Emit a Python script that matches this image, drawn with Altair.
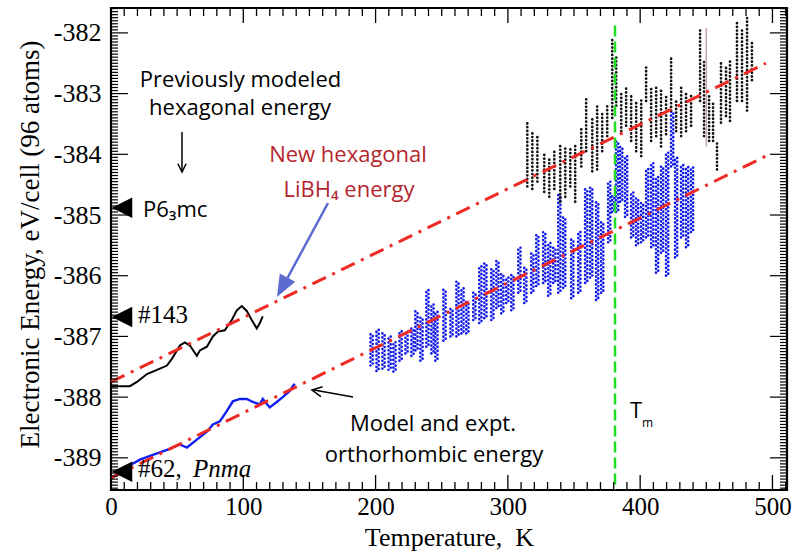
import altair as alt
import pandas as pd

# ---------------- data ----------------
# previously modeled hexagonal energy (black curve)
hex_prev_T = [0.0, 1.5, 14.3, 19.6, 27.2, 37.0, 42.3, 46.0, 52.1, 55.8, 59.6, 64.9, 67.2, 72.5,
              77.0, 80.8, 86.0, 91.3, 95.1, 98.9, 102.6, 106.4, 110.2, 112.5, 114.7]
hex_prev_E = [-387.82, -387.82, -387.82, -387.75, -387.62, -387.53, -387.48, -387.37, -387.15,
              -387.10, -387.15, -387.32, -387.23, -387.17, -387.00, -386.92, -386.90, -386.73,
              -386.57, -386.50, -386.58, -386.73, -386.87, -386.78, -386.67]

# model orthorhombic energy, low temperature (blue curve)
ortho_T = [0.0, 1.5, 12.1, 21.9, 31.7, 42.3, 52.1, 57.4, 64.9, 72.5, 77.0, 82.3, 87.5, 92.1, 97.4,
           102.6, 107.2, 112.5, 114.7, 120.0, 125.3, 129.8, 135.1, 137.4, 138.9]
ortho_E = [-389.33, -389.32, -389.15, -389.03, -388.95, -388.87, -388.78, -388.83, -388.70,
           -388.57, -388.45, -388.40, -388.23, -388.07, -388.03, -388.03, -388.08, -388.12,
           -388.03, -388.17, -388.08, -388.00, -387.90, -387.82, -387.78]

# linear fits (red dash-dot lines)
fit_names = ["hexagonal", "hexagonal", "orthorhombic", "orthorhombic"]
fit_T = [0, 495, 0, 495]
fit_E = [-387.75, -382.50, -389.33, -384.03]

# orthorhombic MD samples (blue dots), one vertical streak per column
blue_T = [197.0, 201.5, 206.0, 210.6, 214.3, 218.9, 223.4, 227.9, 230.9, 234.7, 239.2, 243.0,
          246.0, 252.1, 257.4, 261.9, 265.7, 269.4, 274.7, 279.2, 283.0, 288.3, 292.1, 295.8,
          299.6, 303.4, 308.7, 313.2, 318.5, 322.3, 327.5, 331.3, 335.1, 338.9, 342.6, 348.7,
          354.0, 359.2, 363.0, 367.5, 371.3, 376.6, 379.6, 382.6, 385.7, 389.4, 394.0, 397.7,
          401.5, 405.3, 409.1, 412.8, 416.6, 420.4, 424.2, 427.2, 431.7, 435.5, 439.2]
blue_lo = [-387.48, -387.57, -387.53, -387.55, -387.58, -387.40, -387.28, -387.32, -387.23,
           -387.40, -387.17, -387.28, -387.40, -387.07, -387.00, -387.00, -386.95, -386.95,
           -386.73, -386.78, -386.70, -386.73, -386.53, -386.62, -386.45, -386.57, -386.28,
           -386.45, -386.28, -386.17, -386.12, -386.33, -386.12, -386.28, -386.20, -386.37,
           -386.28, -386.12, -386.03, -386.40, -386.28, -385.45, -384.95, -384.95, -384.78,
           -385.03, -385.37, -385.50, -385.45, -385.37, -385.53, -385.95, -385.62, -386.00,
           -384.20, -385.70, -385.37, -385.53, -385.28]
blue_hi = [-386.95, -386.87, -386.92, -386.98, -387.08, -386.90, -386.90, -386.87, -386.57,
           -386.67, -386.23, -386.45, -386.57, -386.23, -386.53, -386.07, -386.20, -386.42,
           -386.28, -385.82, -385.78, -385.87, -385.73, -385.95, -386.03, -385.98, -385.53,
           -385.87, -385.62, -385.33, -385.28, -385.45, -385.53, -384.67, -385.03, -385.40,
           -385.28, -384.57, -384.53, -384.78, -385.12, -384.45, -384.67, -383.78, -383.87,
           -384.03, -384.62, -384.70, -384.78, -384.23, -384.12, -384.37, -384.20, -383.95,
           -383.28, -384.03, -384.17, -384.20, -384.20]

# hexagonal MD samples (black dots)
black_T = [314.7, 318.5, 322.3, 327.5, 331.3, 335.1, 339.6, 343.4, 347.2, 350.9, 355.5, 359.2,
           363.8, 367.5, 371.3, 375.1, 378.9, 381.9, 385.7, 389.4, 393.2, 397.0, 400.8, 404.5,
           408.3, 412.1, 415.8, 419.6, 423.4, 427.2, 431.0, 434.7, 438.5, 445.3, 448.3, 452.1,
           455.1, 458.1, 461.1, 464.9, 467.9, 473.2, 477.0, 480.8, 484.5]
black_lo = [-384.53, -384.57, -384.45, -384.62, -384.70, -384.57, -384.78, -384.70, -384.53,
            -384.78, -384.20, -383.95, -384.28, -384.25, -383.95, -383.70, -383.40, -383.20,
            -383.62, -383.53, -383.78, -383.95, -384.03, -383.12, -383.78, -383.70, -383.87,
            -383.67, -383.28, -383.62, -383.70, -383.62, -383.53, -383.12, -383.70, -383.78,
            -383.78, -384.25, -383.48, -383.37, -383.45, -383.12, -383.12, -383.28, -382.78]
black_hi = [-383.48, -383.62, -383.70, -383.95, -384.07, -383.95, -383.83, -383.87, -383.87,
            -383.83, -383.57, -383.07, -383.37, -383.17, -383.28, -383.20, -382.12, -382.37,
            -382.95, -382.90, -383.03, -383.12, -383.07, -382.57, -382.92, -382.87, -382.95,
            -383.03, -382.42, -383.08, -382.90, -382.95, -383.03, -381.95, -382.45, -383.03,
            -383.15, -383.78, -382.45, -382.53, -382.42, -381.83, -381.95, -381.70, -382.12]

# melting temperature (green) and the thin marker line near 450 K
tm_T = [381]
tm_top = [-381.88]
mark450_T = [450]
mark450_lo = [-383.87]
mark450_hi = [-381.92]

# reference structure energies (black triangles on the axis)
struct_names = ["P6_3mc", "#143", "#62"]
struct_E = [-384.88, -386.68, -389.23]

# axis ticks
x_major = [0, 100, 200, 300, 400, 500]
x_minor = [v for v in range(10, 511, 10) if v % 100 != 0]
y_major = [-389, -388, -387, -386, -385, -384, -383, -382]
y_minor = [round(-389.50 + 0.05 * i, 2) for i in range(0, 159)
           if abs(round(-389.50 + 0.05 * i, 2) - round(-389.50 + 0.05 * i)) > 1e-6]

# ---------------- chart ----------------
W, H = 676, 482
xs = alt.Scale(domain=[0, 511], nice=False, zero=False)
ys = alt.Scale(domain=[-389.53, -381.59], nice=False, zero=False)
SERIF = "Liberation Serif"
SANS = "Open Sans"
XTITLE = "Temperature,\u2002K"
YTITLE = "Electronic Energy,  eV/cell (96 atoms)"

XA = alt.Axis(
    values=x_major, format="d", title=XTITLE,
    labelFont=SERIF, labelFontSize=25, labelColor="black", labelPadding=4,
    titleFont=SERIF, titleFontSize=26, titleFontWeight="normal", titleColor="black",
    titlePadding=5, ticks=False, domain=False, grid=False, labelFlush=False)
YA = alt.Axis(
    values=y_major, labelExpr="'-' + format(abs(datum.value), 'd')", title=YTITLE,
    labelFont=SERIF, labelFontSize=26, labelColor="black", labelPadding=10,
    titleFont=SERIF, titleFontSize=27, titleFontWeight="normal", titleColor="black",
    titlePadding=9, titleY=236, ticks=False, domain=False, grid=False, labelFlush=False)

blue_df = pd.DataFrame({"T": blue_T, "lo": blue_lo, "hi": blue_hi})
black_df = pd.DataFrame({"T": black_T, "lo": black_lo, "hi": black_hi})
fit_df = pd.DataFrame({"fit": fit_names, "T": fit_T, "E": fit_E})
hexp_df = pd.DataFrame({"T": hex_prev_T, "E": hex_prev_E})
orth_df = pd.DataFrame({"T": ortho_T, "E": ortho_E})
tm_df = pd.DataFrame({"T": tm_T, "top": tm_top})
m450_df = pd.DataFrame({"T": mark450_T, "lo": mark450_lo, "hi": mark450_hi})
struct_df = pd.DataFrame({"name": struct_names, "E": struct_E})
xmaj_df = pd.DataFrame({"T": x_major})
xmin_df = pd.DataFrame({"T": x_minor})
ymaj_df = pd.DataFrame({"E": y_major})
ymin_df = pd.DataFrame({"E": y_minor})
one = pd.DataFrame({"k": [0]})

def X(f="T"):
    return alt.X(f"{f}:Q", scale=xs, axis=XA, title=XTITLE)

def Y(f="E"):
    return alt.Y(f"{f}:Q", scale=ys, axis=YA, title=YTITLE)

BLUE = "#1018e8"
blue_pts_a = alt.Chart(blue_df).mark_rule(
    color=BLUE, strokeWidth=2.6, strokeDash=[0.1, 3.8], strokeCap="round", xOffset=-1.1
).encode(x=X(), y=Y("lo"), y2="hi:Q")
blue_pts_b = alt.Chart(blue_df).mark_rule(
    color=BLUE, strokeWidth=2.6, strokeDash=[0.1, 3.8], strokeCap="round",
    strokeDashOffset=1.9, xOffset=1.1
).encode(x=X(), y=Y("lo"), y2="hi:Q")

black_pts = alt.Chart(black_df).mark_rule(
    color="#111111", strokeWidth=2.7, strokeDash=[0.1, 3.6], strokeCap="round"
).encode(x=X(), y=Y("lo"), y2="hi:Q")

m450 = alt.Chart(m450_df).mark_rule(color="#c8a2a4", strokeWidth=1.5).encode(
    x=X(), y=Y("lo"), y2="hi:Q")

hexp = alt.Chart(hexp_df).mark_line(color="black", strokeWidth=2).encode(x=X(), y=Y())
orth = alt.Chart(orth_df).mark_line(color="#1020f0", strokeWidth=2.4).encode(x=X(), y=Y())

fits = alt.Chart(fit_df).mark_line(
    color="#ee2a24", strokeWidth=3, strokeDash=[15, 7, 3, 7]
).encode(x=X(), y=Y(), detail="fit:N")

tm = alt.Chart(tm_df).mark_rule(color="#22dd22", strokeWidth=2.5, strokeDash=[11, 5]).encode(
    x=X(), y=Y("top"), y2=alt.value(H))

def xticks(df, length):
    b = alt.Chart(df).mark_rule(color="black", strokeWidth=1.3).encode(
        x=X(), y=alt.value(H), y2=alt.value(H - length))
    t = alt.Chart(df).mark_rule(color="black", strokeWidth=1.3).encode(
        x=X(), y=alt.value(0), y2=alt.value(length))
    return [b, t]

def yticks(df, length):
    l = alt.Chart(df).mark_rule(color="black", strokeWidth=1.2).encode(
        y=Y(), x=alt.value(0), x2=alt.value(length))
    r = alt.Chart(df).mark_rule(color="black", strokeWidth=1.2).encode(
        y=Y(), x=alt.value(W), x2=alt.value(W - length))
    return [l, r]

ticks = xticks(xmaj_df, 15) + xticks(xmin_df, 8) + yticks(ymaj_df, 17) + yticks(ymin_df, 7)

tri = alt.Chart(struct_df).mark_point(
    shape="M-1,0L1,-1L1,1Z", filled=True, color="black", opacity=1, size=420
).encode(x=alt.value(11), y=Y())

def seg(x1, y1, x2, y2, color, width):
    return alt.Chart(one).mark_rule(color=color, strokeWidth=width).encode(
        x=alt.value(x1), y=alt.value(y1), x2=alt.value(x2), y2=alt.value(y2))

def head(x, y, shape, angle, size, color, filled):
    return alt.Chart(one).mark_point(
        shape=shape, angle=angle, size=size, color=color, filled=filled,
        opacity=1, strokeWidth=1.5
    ).encode(x=alt.value(x), y=alt.value(y))

arrows = [
    seg(71, 124, 71, 163, "black", 1.5),
    head(71, 164, "M-0.7,-1.4L0,0L0.7,-1.4", 0, 140, "black", False),
    seg(217, 195, 170, 282, "#5b6bd0", 2.5),
    head(166, 289, "M0,0L-0.8,2L0.8,2Z", 208.5, 484, "#5b6bd0", True),
    seg(242, 389, 203, 382, "black", 1.5),
    head(201, 382, "M-0.7,1.4L0,0L0.7,1.4", 279.7, 200, "black", False),
]

def txt(s, x, y, font, size, color="black", align="left", style="normal"):
    return alt.Chart(one).mark_text(
        text=s, font=font, fontSize=size, color=color, align=align,
        baseline="alphabetic", fontStyle=style
    ).encode(x=alt.value(x), y=alt.value(y))

DARKRED = "#b3262e"
texts = [
    txt("Previously modeled", 129.5, 79, SANS, 22, align="center"),
    txt("hexagonal energy", 129, 107, SANS, 22, align="center"),
    txt("P6\u2083mc", 32, 209, SANS, 22),
    txt("#143", 27, 315, SERIF, 25),
    txt("#62,", 27, 469, SERIF, 25),
    txt("Pnma", 82, 469, SERIF, 25, style="italic"),
    txt("New hexagonal", 237, 154, SANS, 22, color=DARKRED, align="center"),
    txt("LiBH\u2084 energy", 238, 189, SANS, 22, color=DARKRED, align="center"),
    txt("Model and expt.", 322, 423, SANS, 22, align="center"),
    txt("orthorhombic energy", 323, 454, SANS, 22, align="center"),
    txt("T", 519, 410, SANS, 22),
    txt("m", 531, 419, SANS, 12),
]

chart = alt.layer(
    blue_pts_a, blue_pts_b, black_pts, m450, hexp, orth, fits, tm, *ticks, tri, *arrows, *texts
).properties(
    width=W, height=H,
    padding={"left": 111, "top": 8, "right": 17, "bottom": 64},
    autosize=alt.AutoSizeParams(type="none"),
    background="white",
).configure_view(stroke="black", strokeWidth=2.2)

chart.save("out.html", embed_options={"renderer": "svg", "actions": False})
